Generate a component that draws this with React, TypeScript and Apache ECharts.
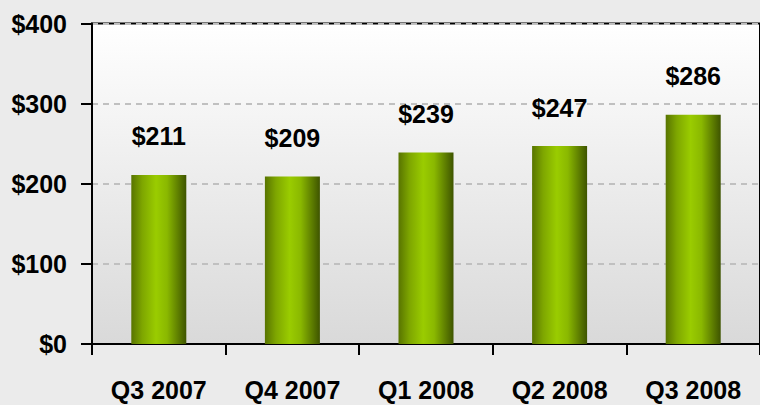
import React, { useEffect, useRef } from "react";
import * as echarts from "echarts";

const categories = ["Q3 2007", "Q4 2007", "Q1 2008", "Q2 2008", "Q3 2008"];
const values = [211, 209, 239, 247, 286];
const yTicks = [0, 100, 200, 300, 400];

const FONT = "'Liberation Sans', Arial, sans-serif";

export default function App() {
  const ref = useRef<HTMLDivElement>(null);
  useEffect(() => {
    const chart = echarts.init(ref.current!, null, { renderer: "svg" });
    chart.setOption({
      animation: false,
      backgroundColor: "#ebebeb",
      grid: {
        left: 92,
        top: 23.5,
        width: 675,
        height: 320.5,
        show: true,
        borderColor: "#000",
        borderWidth: 2,
        backgroundColor: new echarts.graphic.LinearGradient(0, 0, 0, 1, [
          { offset: 0, color: "#ffffff" },
          { offset: 1, color: "#d9d9d9" },
        ]),
      },
      xAxis: {
        type: "category",
        data: categories,
        axisLine: { lineStyle: { color: "#000", width: 2 } },
        axisTick: { show: true, length: 11, lineStyle: { color: "#000", width: 2 } },
        axisLabel: {
          color: "#000",
          fontFamily: FONT,
          fontWeight: "bold",
          fontSize: 25,
          margin: 33,
        },
      },
      yAxis: {
        type: "value",
        min: yTicks[0],
        max: yTicks[yTicks.length - 1],
        interval: 100,
        axisLine: { show: true, lineStyle: { color: "#000", width: 2 } },
        axisTick: { show: true, length: 11, lineStyle: { color: "#000", width: 2 } },
        axisLabel: {
          color: "#000",
          fontFamily: FONT,
          fontWeight: "bold",
          fontSize: 25,
          margin: 25,
          formatter: (v: number) => "$" + v,
        },
        splitLine: {
          show: true,
          lineStyle: { color: "#c0c0c0", type: [6, 5], width: 2 },
        },
      },
      series: [
        {
          type: "bar",
          data: values,
          barWidth: 55,
          itemStyle: {
            color: new echarts.graphic.LinearGradient(0, 0, 1, 0, [
              { offset: 0, color: "#587400" },
              { offset: 0.2, color: "#7ea600" },
              { offset: 0.45, color: "#9acc00" },
              { offset: 0.65, color: "#8ab800" },
              { offset: 1, color: "#3e5400" },
            ]),
          },
          label: {
            show: true,
            position: "top",
            distance: 26,
            color: "#000",
            fontFamily: FONT,
            fontWeight: "bold",
            fontSize: 25,
            formatter: (p: any) => "$" + p.value,
          },
        },
      ],
    });
    return () => chart.dispose();
  }, []);
  return <div ref={ref} style={{ width: 760, height: 405, position: "absolute", left: 0, top: 0 }} />;
}
